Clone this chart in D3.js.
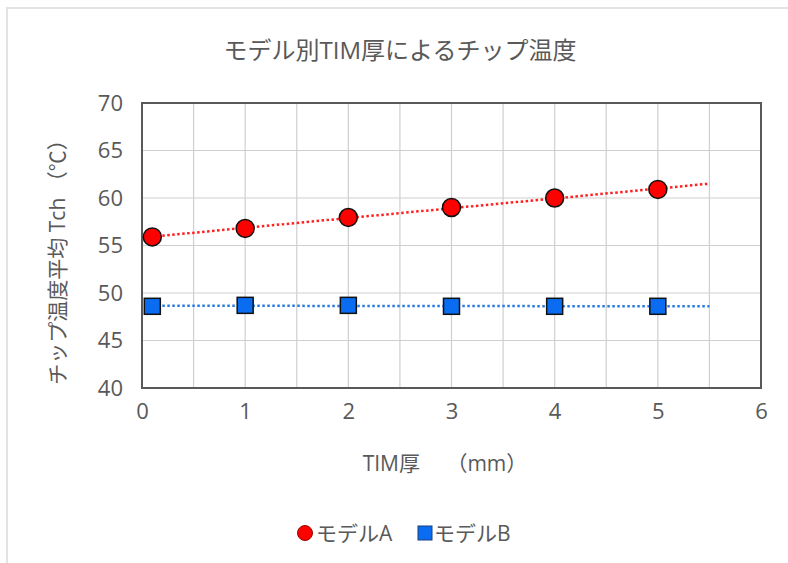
<!DOCTYPE html>
<html>
<head>
<meta charset="utf-8">
<script src="https://cdn.jsdelivr.net/npm/d3@7"></script>
<style>
  html, body { margin: 0; padding: 0; background: #fff; }
  svg text { font-family: "Open Sans", "Noto Sans CJK JP", sans-serif; fill: #595959; }
</style>
</head>
<body>
<svg id="chart" width="788" height="563"></svg>
<script>
// TIM thickness (mm) and average chip temperature (°C) per model
const thickness = [0.1, 1, 2, 3, 4, 5];
const modelA = [55.9, 56.8, 57.95, 59.0, 60.0, 60.9];
const modelB = [48.6, 48.7, 48.7, 48.6, 48.6, 48.6];
const seriesNames = ["モデルA", "モデルB"];
const xTicks = [0, 1, 2, 3, 4, 5, 6];
const yTicks = [40, 45, 50, 55, 60, 65, 70];
const trendEnd = 5.5;

const svg = d3.select("#chart");
const W = 788, H = 563;
const plot = { left: 142, right: 761, top: 103, bottom: 388 };

// chart frame
svg.append("path")
  .attr("d", `M7,${H} L7,8 L${W},8`)
  .attr("fill", "none").attr("stroke", "#e3e3e3").attr("stroke-width", 2);

const x = d3.scaleLinear().domain([0, 6]).range([plot.left, plot.right]);
const y = d3.scaleLinear().domain([40, 70]).range([plot.bottom, plot.top]);

// grid
const g = svg.append("g");
g.selectAll("line.vx").data(d3.range(0.5, 6, 0.5)).join("line")
  .attr("x1", d => x(d)).attr("x2", d => x(d))
  .attr("y1", plot.top).attr("y2", plot.bottom)
  .attr("stroke", "#cfcfcf").attr("stroke-width", 1.2);
g.selectAll("line.hy").data(yTicks.slice(1, -1)).join("line")
  .attr("x1", plot.left).attr("x2", plot.right)
  .attr("y1", d => y(d)).attr("y2", d => y(d))
  .attr("stroke", "#cfcfcf").attr("stroke-width", 1.2);

// plot border
svg.append("rect")
  .attr("x", plot.left).attr("y", plot.top)
  .attr("width", plot.right - plot.left).attr("height", plot.bottom - plot.top)
  .attr("fill", "none").attr("stroke", "#595959").attr("stroke-width", 2);

// axes (labels only)
const xAxis = svg.append("g").attr("transform", `translate(0,${plot.bottom + 12})`)
  .call(d3.axisBottom(x).tickValues(xTicks).tickSize(0).tickFormat(d3.format("d")));
const yAxis = svg.append("g").attr("transform", `translate(${plot.left - 16},0)`)
  .call(d3.axisLeft(y).tickValues(yTicks).tickSize(0).tickFormat(d3.format("d")));
[xAxis, yAxis].forEach(a => {
  a.select(".domain").remove();
  a.selectAll("text").attr("font-size", 22).attr("fill", "#595959")
    .style("font-family", '"Open Sans", sans-serif');
});

// linear trend lines
function trend(xs, ys) {
  const mx = d3.mean(xs), my = d3.mean(ys);
  const b = d3.sum(xs, (v, i) => (v - mx) * (ys[i] - my)) / d3.sum(xs, v => (v - mx) ** 2);
  const a = my - b * mx;
  return [[xs[0], a + b * xs[0]], [trendEnd, a + b * trendEnd]];
}
const line = d3.line().x(d => x(d[0])).y(d => y(d[1]));
svg.append("path").attr("d", line(trend(thickness, modelB)))
  .attr("stroke", "#2a7be4").attr("stroke-width", 2.5).attr("stroke-dasharray", "2.5,2.5")
  .attr("fill", "none");
svg.append("path").attr("d", line(trend(thickness, modelA)))
  .attr("stroke", "#ff2020").attr("stroke-width", 2.5).attr("stroke-dasharray", "2.5,2.5")
  .attr("fill", "none");

// markers
const sq = 16;
svg.append("g").selectAll("rect").data(thickness.map((t, i) => [t, modelB[i]])).join("rect")
  .attr("x", d => x(d[0]) - sq / 2).attr("y", d => y(d[1]) - sq / 2)
  .attr("width", sq).attr("height", sq)
  .attr("fill", "#0a6cf0").attr("stroke", "#111").attr("stroke-width", 1.5);
svg.append("g").selectAll("circle").data(thickness.map((t, i) => [t, modelA[i]])).join("circle")
  .attr("cx", d => x(d[0])).attr("cy", d => y(d[1])).attr("r", 9)
  .attr("fill", "#ff0000").attr("stroke", "#111").attr("stroke-width", 1.5);

// title
svg.append("text").attr("x", 400).attr("y", 59).attr("text-anchor", "middle")
  .attr("font-size", 24).text("モデル別TIM厚によるチップ温度");

// axis titles
svg.append("text").attr("x", 445).attr("y", 471).attr("text-anchor", "middle")
  .attr("font-size", 21).text("TIM厚　 （mm）");
svg.append("text")
  .attr("transform", `translate(65,257) rotate(-90)`)
  .attr("text-anchor", "middle").attr("font-size", 21)
  .text("チップ温度平均 Tch （℃）");

// legend
const lg = svg.append("g");
lg.append("circle").attr("cx", 305).attr("cy", 533).attr("r", 7.5)
  .attr("fill", "#ff0000").attr("stroke", "#a00000").attr("stroke-width", 1);
lg.append("text").attr("x", 316).attr("y", 541).attr("font-size", 21).text(seriesNames[0]);
lg.append("rect").attr("x", 418).attr("y", 526).attr("width", 14).attr("height", 14)
  .attr("fill", "#0a6cf0").attr("stroke", "#1a3f80").attr("stroke-width", 1);
lg.append("text").attr("x", 434).attr("y", 541).attr("font-size", 21).text(seriesNames[1]);
</script>
</body>
</html>
